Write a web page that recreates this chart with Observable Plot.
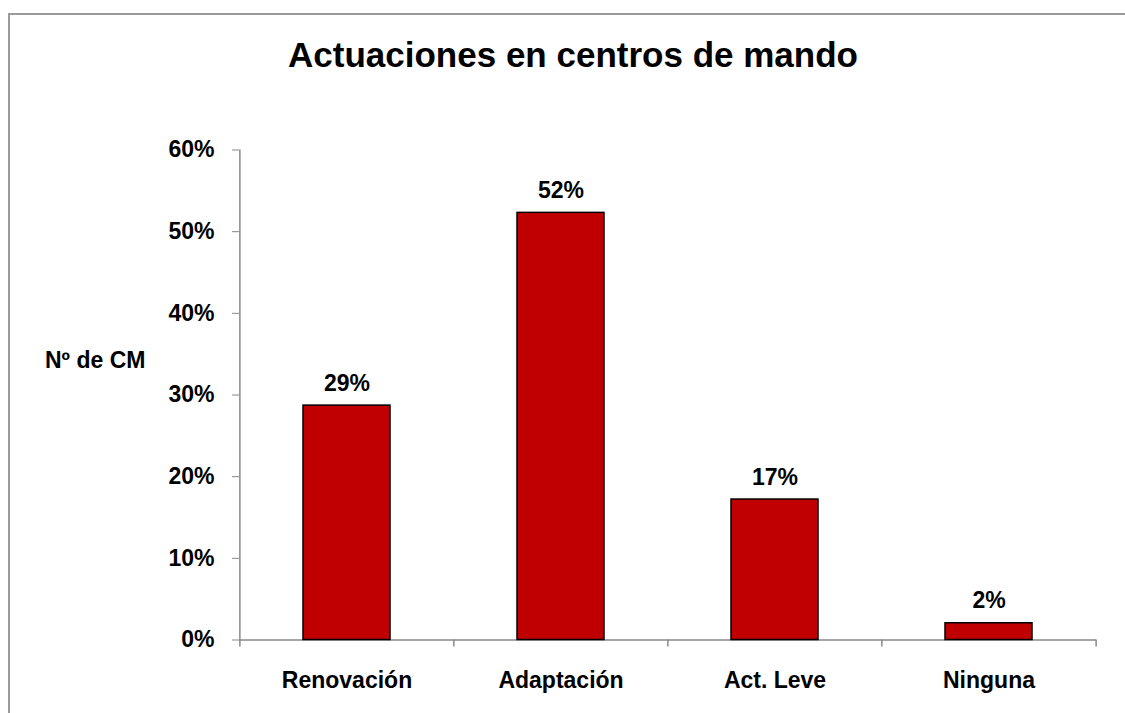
<!DOCTYPE html>
<html>
<head>
<meta charset="utf-8">
<script src="https://cdn.jsdelivr.net/npm/d3@7"></script>
<script src="https://cdn.jsdelivr.net/npm/@observablehq/plot@0.6"></script>
<style>
  html, body { margin: 0; padding: 0; background: #fff; }
  #wrap { position: relative; width: 1125px; height: 713px; overflow: hidden; font-family: "Liberation Sans", Arial, sans-serif; }
  #chart svg { display: block; }
  #border { position: absolute; left: 8px; top: 13px; width: 1300px; height: 900px; border-top: 2px solid #9a9a9a; border-left: 2px solid #9a9a9a; pointer-events: none; }
  #title { position: absolute; left: 73px; width: 1000px; top: 37px; text-align: center; font-size: 35px; line-height: 35px; font-weight: bold; color: #000; }
  #ylabel { position: absolute; left: 45px; top: 349px; font-size: 23px; line-height: 23px; font-weight: bold; color: #000; white-space: nowrap; }
</style>
</head>
<body>
<div id="wrap">
  <div id="chart"></div>
  <div id="border"></div>
  <div id="title">Actuaciones en centros de mando</div>
  <div id="ylabel">Nº de CM</div>
</div>
<script>
// Data
const categories = ["Renovación", "Adaptación", "Act. Leve", "Ninguna"];
const values = [28.7, 52.3, 17.2, 2.05];
const yTicks = [0, 10, 20, 30, 40, 50, 60];

const data = categories.map((c, i) => ({cat: c, v: values[i]}));

const W = 1125, H = 713;
const mL = 239, mR = 29, mT = 149.5, mB = 73.5;
const axisGray = "#888888";
const xOpts = {domain: categories, paddingInner: 0.594, paddingOuter: 0.297, label: null};
const yOpts = {domain: [0, 60], label: null};

// band step from the library's own x scale
const step = Plot.scale({x: {type: "band", ...xOpts, range: [mL, W - mR]}}).step;

const last = categories[categories.length - 1];

const plot = Plot.plot({
  width: W,
  height: H,
  marginLeft: mL,
  marginRight: mR,
  marginTop: mT,
  marginBottom: mB,
  style: {fontFamily: "'Liberation Sans', Arial, sans-serif", fontSize: "23px", fontWeight: "bold", color: "#000", background: "transparent"},
  x: xOpts,
  y: yOpts,
  marks: [
    Plot.axisY({ticks: yTicks, tickFormat: d => d + "%", tickSize: 7, tickPadding: 18, stroke: axisGray, fill: "#000", label: null, fontSize: 23, fontWeight: "bold"}),
    Plot.axisX({tickSize: 0, tickPadding: 32, fill: "#000", label: null, fontSize: 23, fontWeight: "bold"}),
    // vertical axis line at the left edge of the first band
    Plot.ruleX([categories[0]], {x: d => d, dx: -step / 2, y1: 60, y2: 0, insetBottom: -7, stroke: axisGray, strokeWidth: 1.5}),
    // boundary ticks between categories
    Plot.ruleX(categories.slice(1), {x: d => d, dx: -step / 2, y1: 0, y2: 0, insetBottom: -7, stroke: axisGray, strokeWidth: 1.5}),
    Plot.ruleX([last], {x: d => d, dx: step / 2, y1: 0, y2: 0, insetBottom: -7, stroke: axisGray, strokeWidth: 1.5}),
    Plot.ruleY([0], {stroke: axisGray, strokeWidth: 1.5}),
    Plot.barY(data, {x: "cat", y: "v", fill: "#C00000", stroke: "#000", strokeWidth: 1.5}),
    Plot.text(data, {x: "cat", y: "v", text: d => Math.round(d.v) + "%", dy: -15, lineAnchor: "bottom", textAnchor: "middle", fill: "#000", fontSize: 23, fontWeight: "bold"})
  ]
});
document.getElementById("chart").appendChild(plot);
</script>
</body>
</html>
